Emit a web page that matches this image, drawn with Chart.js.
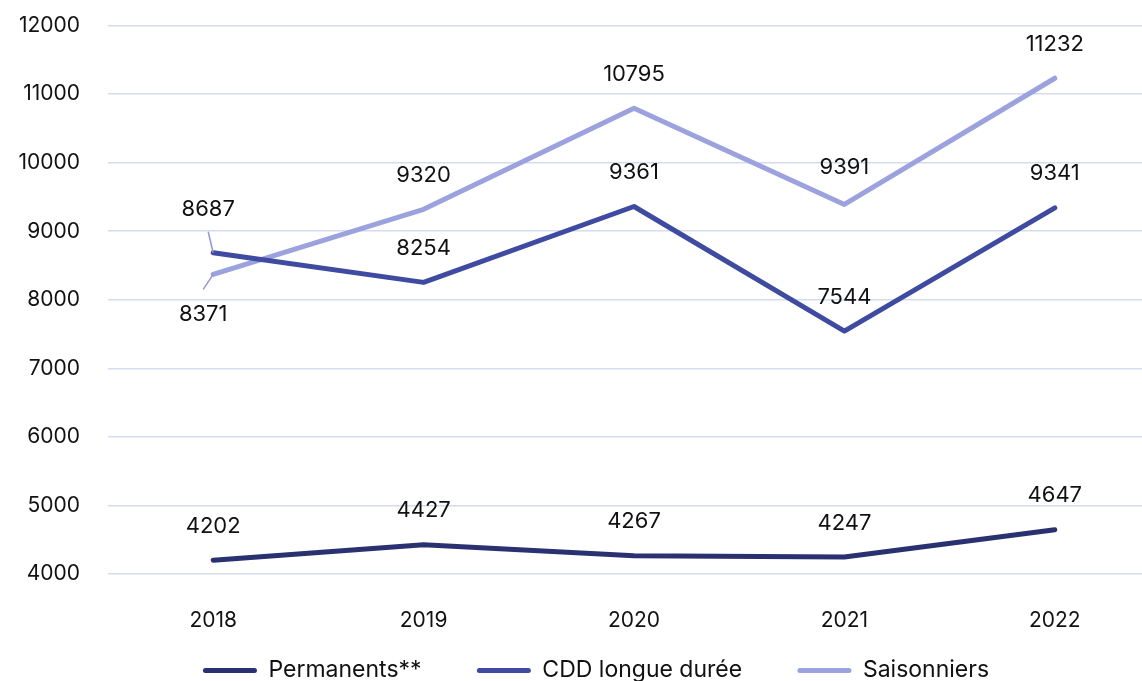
<!DOCTYPE html>
<html>
<head>
<meta charset="utf-8">
<script src="https://cdn.jsdelivr.net/npm/chart.js@4/dist/chart.umd.min.js"></script>
<style>
    html, body { margin: 0; padding: 0; background: #fff; overflow: hidden; }
    #wrap { width: 1160px; height: 707px; margin-top: -15px; }
</style>
</head>
<body>
<div id="wrap"><canvas id="chart"></canvas></div>
<script>
// Chart data
const years = ['2018', '2019', '2020', '2021', '2022'];
const permanents = [4202, 4427, 4267, 4247, 4647];
const cddLongueDuree = [8687, 8254, 9361, 7544, 9341];
const saisonniers = [8371, 9320, 10795, 9391, 11232];
const yTicks = [4000, 5000, 6000, 7000, 8000, 9000, 10000, 11000, 12000];

const FONT = 'Inter, "Open Sans", sans-serif';

/**
 * Draw value labels above each point (with a few hand-placed ones for 2018)
 */
const valueLabels = {
    id: 'valueLabels',
    afterDatasetsDraw(chart) {
        const ctx = chart.ctx;
        ctx.save();
        ctx.font = '22px ' + FONT;
        ctx.fillStyle = '#111';
        ctx.textAlign = 'center';
        ctx.textBaseline = 'middle';
        chart.data.datasets.forEach((ds, i) => {
            const meta = chart.getDatasetMeta(i);
            meta.data.forEach((pt, j) => {
                const off = (ds.labelOffsets && ds.labelOffsets[j]) || { dx: 0, dy: -34 };
                const lx = pt.x + off.dx;
                const ly = pt.y + off.dy;
                if (off.leader) {
                    ctx.strokeStyle = '#8f98d8';
                    ctx.lineWidth = 1.5;
                    ctx.beginPath();
                    ctx.moveTo(pt.x, pt.y);
                    ctx.lineTo(pt.x + off.leader[0], pt.y + off.leader[1]);
                    ctx.stroke();
                }
                ctx.fillText(String(ds.data[j]), lx, ly);
            });
        });
        ctx.restore();
    }
};

// nudge the legend a bit to the right, like in the original
const legendShift = {
    id: 'legendShift',
    afterLayout(chart) {
        if (chart.legend) chart.legend.left += 32;
    }
};

const ctx = document.getElementById('chart').getContext('2d');
new Chart(ctx, {
    type: 'line',
    data: {
        labels: years,
        datasets: [
            {
                label: 'Permanents**',
                data: permanents,
                borderColor: '#2a3170',
                backgroundColor: '#2a3170',
                borderWidth: 5
            },
            {
                label: 'CDD longue durée',
                data: cddLongueDuree,
                borderColor: '#3e4ba0',
                backgroundColor: '#3e4ba0',
                borderWidth: 5,
                labelOffsets: [{ dx: -5, dy: -43, leader: [-5, -21] }]
            },
            {
                label: 'Saisonniers',
                data: saisonniers,
                borderColor: '#9ba2de',
                backgroundColor: '#9ba2de',
                borderWidth: 5,
                labelOffsets: [{ dx: -10, dy: 40, leader: [-10, 15] }, null, null, { dx: 0, dy: -37 }]
            }
        ]
    },
    options: {
        responsive: true,
        maintainAspectRatio: false,
        animation: false,
        layout: { padding: { top: 10, right: 0, bottom: 0, left: 0 } },
        elements: {
            point: { radius: 0, hoverRadius: 0 },
            line: { tension: 0, borderCapStyle: 'round', borderJoinStyle: 'round' }
        },
        plugins: {
            tooltip: { enabled: false },
            legend: {
                position: 'bottom',
                labels: {
                    boxWidth: 54,
                    boxHeight: 5,
                    padding: 10,
                    useBorderRadius: true,
                    borderRadius: 2.5,
                    color: '#111',
                    font: { family: FONT, size: 23 },
                    generateLabels(chart) {
                        const items = Chart.defaults.plugins.legend.labels.generateLabels(chart);
                        // widen the gap between legend entries
                        items.forEach((item, i) => {
                            item.lineWidth = 0;
                            if (i < items.length - 1) item.text += '       ';
                        });
                        return items;
                    }
                }
            }
        },
        scales: {
            x: {
                offset: true,
                grid: { display: false },
                border: { display: false },
                ticks: {
                    padding: 26,
                    color: '#111',
                    font: { family: FONT, size: 21 }
                },
                afterFit(scale) { scale.height = 75; }
            },
            y: {
                min: 4000,
                max: 12000,
                grid: { color: '#d6dcf0', lineWidth: 1.5, drawTicks: false },
                border: { display: false },
                afterBuildTicks(scale) { scale.ticks = yTicks.map(v => ({ value: v })); },
                ticks: {
                    padding: 28,
                    color: '#111',
                    font: { family: FONT, size: 21 },
                    callback: value => String(value)
                },
                afterFit(scale) { scale.width = 108; }
            }
        }
    },
    plugins: [valueLabels, legendShift]
});
</script>
</body>
</html>
